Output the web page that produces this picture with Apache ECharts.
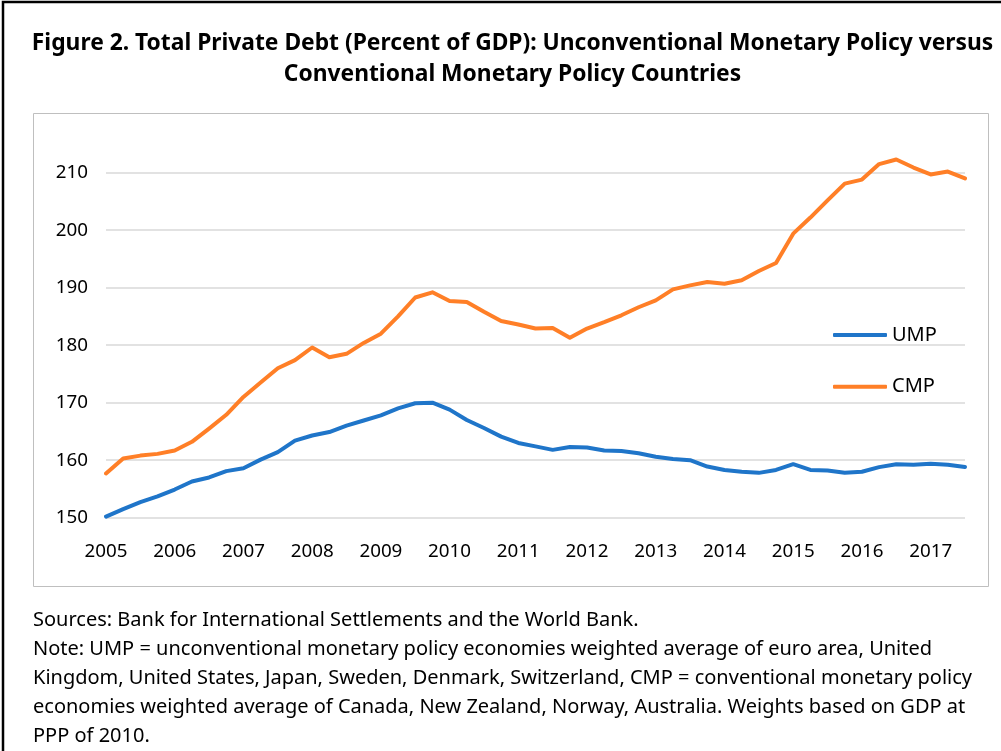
<!DOCTYPE html>
<html>
<head>
<meta charset="utf-8">
<script src="https://cdn.jsdelivr.net/npm/echarts@6/dist/echarts.min.js"></script>
<style>
  html, body { margin: 0; padding: 0; background: #fff; }
  #chart { width: 1001px; height: 751px; }
</style>
</head>
<body>
<div id="chart"></div>
<script>
// Years shown on the x axis (quarterly data, 2005Q1 - 2017Q3)
const years = ['2005','2006','2007','2008','2009','2010','2011','2012','2013','2014','2015','2016','2017'];
const quarterNames = ['Q1','Q2','Q3','Q4'];
const lastQuarterCount = 3; // data ends in 2017Q3

// Unconventional monetary policy countries (percent of GDP)
const ump = [
  150.2, 151.5, 152.7, 153.7,
  154.9, 156.3, 157.0, 158.1,
  158.6, 160.1, 161.4, 163.4,
  164.3, 164.9, 166.0, 166.9,
  167.8, 169.0, 169.9, 170.0,
  168.8, 167.0, 165.6, 164.1,
  163.0, 162.4, 161.8, 162.3,
  162.2, 161.7, 161.6, 161.2,
  160.6, 160.2, 160.0, 158.9,
  158.3, 158.0, 157.8, 158.3,
  159.3, 158.3, 158.2, 157.8,
  158.0, 158.8, 159.3, 159.2,
  159.4, 159.2, 158.8
];

// Conventional monetary policy countries (percent of GDP)
const cmp = [
  157.7, 160.3, 160.8, 161.1,
  161.7, 163.2, 165.5, 167.9,
  171.0, 173.5, 176.0, 177.4,
  179.6, 177.9, 178.5, 180.4,
  182.0, 185.0, 188.3, 189.2,
  187.7, 187.5, 185.8, 184.2,
  183.6, 182.9, 183.0, 181.3,
  182.9, 184.0, 185.2, 186.6,
  187.8, 189.7, 190.4, 191.0,
  190.7, 191.3, 192.9, 194.3,
  199.4, 202.2, 205.2, 208.1,
  208.8, 211.5, 212.3, 210.9,
  209.7, 210.2, 209.0
];

const yMin = 150, yMax = 210, yStep = 10;

const titleLines = [
  'Figure 2. Total Private Debt (Percent of GDP): Unconventional Monetary Policy versus',
  'Conventional Monetary Policy Countries'
];
const noteLines = [
  'Sources: Bank for International Settlements and the World Bank.',
  'Note: UMP = unconventional monetary policy economies weighted average of euro area, United',
  'Kingdom, United States, Japan, Sweden, Denmark, Switzerland, CMP = conventional monetary policy',
  'economies weighted average of Canada, New Zealand, Norway, Australia. Weights based on GDP at',
  'PPP of 2010.'
];

// Build quarterly category list from the years
const categories = [];
years.forEach((y, yi) => {
  const n = (yi === years.length - 1) ? lastQuarterCount : 4;
  for (let q = 0; q < n; q++) categories.push(y + quarterNames[q]);
});

const FONT = '"Noto Sans", "Open Sans", sans-serif';
const BLUE = '#1f75c9';
const ORANGE = '#ff7f27';

const graphics = [
  { type: 'rect', silent: true, z: 0,
    shape: { x: 3, y: 2, width: 1200, height: 900 },
    style: { fill: 'none', stroke: '#000', lineWidth: 2.5 } },
  { type: 'rect', silent: true, z: 0,
    shape: { x: 33.5, y: 113.5, width: 955, height: 473 },
    style: { fill: 'none', stroke: '#bfbfbf', lineWidth: 1 } }
];
titleLines.forEach((t, i) => {
  graphics.push({
    type: 'text', silent: true, z: 10,
    style: { text: t, x: 512.5, y: 44 + i * 30.5, align: 'center', verticalAlign: 'middle',
             font: 'bold 22.8px ' + FONT, fill: '#000' }
  });
});
noteLines.forEach((t, i) => {
  graphics.push({
    type: 'text', silent: true, z: 10,
    left: 33, top: 610 + i * 29,
    style: { text: t, font: '20px ' + FONT, fill: '#000' }
  });
});

const chart = echarts.init(document.getElementById('chart'), null, { renderer: 'canvas' });
chart.setOption({
  animation: false,
  backgroundColor: '#fff',
  grid: { left: 106, right: 36, top: 172.7, bottom: 233.3, containLabel: false },
  legend: {
    orient: 'vertical',
    left: 833, top: 324,
    icon: 'roundRect',
    itemWidth: 54, itemHeight: 4, itemGap: 29.7,
    padding: 0,
    data: ['UMP', 'CMP'],
    textStyle: { fontFamily: FONT, fontSize: 20, color: '#000', lineHeight: 22 }
  },
  xAxis: {
    type: 'category',
    data: categories,
    boundaryGap: false,
    axisLine: { show: false },
    axisTick: { show: false },
    splitLine: { show: false },
    axisLabel: {
      interval: 3,
      margin: 24,
      formatter: v => v.slice(0, 4),
      fontFamily: FONT, fontSize: 18.8, color: '#000'
    }
  },
  yAxis: {
    type: 'value',
    min: yMin, max: yMax, interval: yStep,
    axisLine: { show: false },
    axisTick: { show: false },
    splitLine: { show: true, lineStyle: { color: '#d9d9d9', width: 1.5 } },
    axisLabel: { margin: 18, fontFamily: FONT, fontSize: 18.8, color: '#000' }
  },
  series: [
    { name: 'UMP', type: 'line', data: ump, symbol: 'none', clip: false,
      itemStyle: { color: BLUE },
      lineStyle: { color: BLUE, width: 4, cap: 'round', join: 'round' } },
    { name: 'CMP', type: 'line', data: cmp, symbol: 'none', clip: false,
      itemStyle: { color: ORANGE },
      lineStyle: { color: ORANGE, width: 4, cap: 'round', join: 'round' } }
  ],
  graphic: graphics
});
</script>
</body>
</html>
